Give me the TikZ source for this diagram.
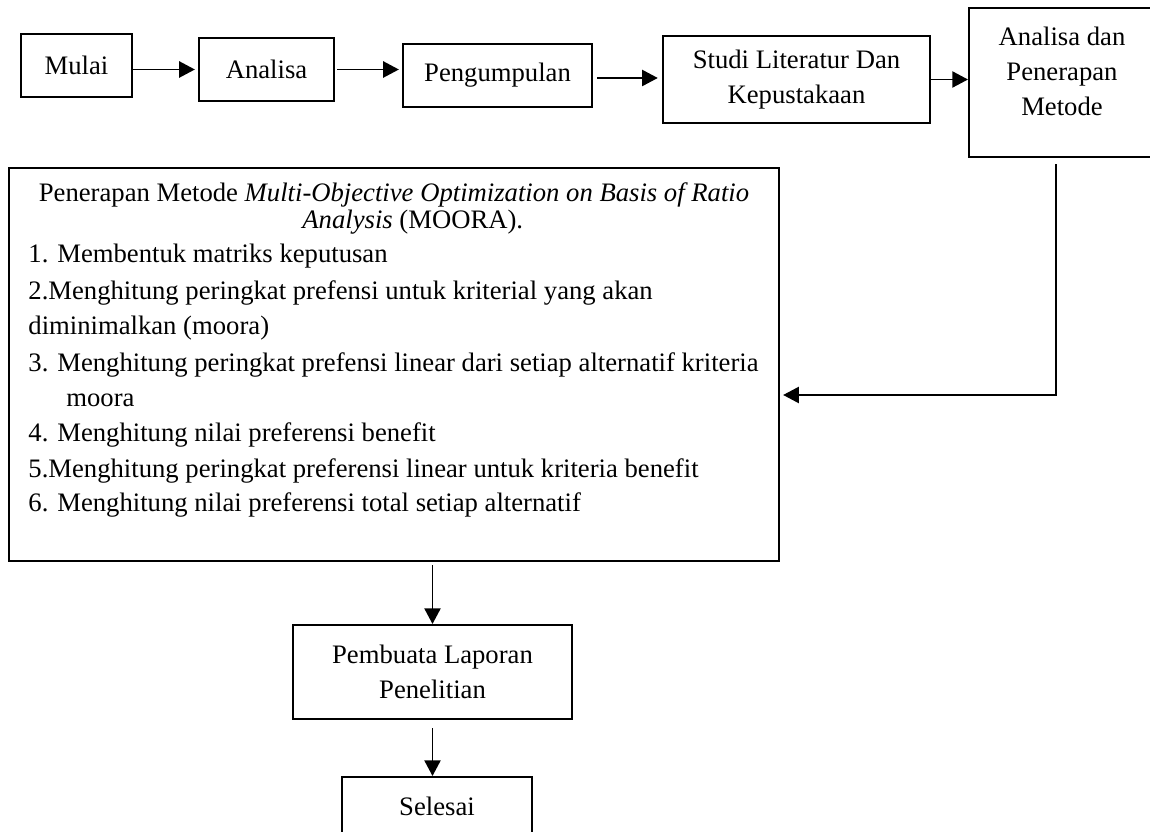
\documentclass[tikz,border=0pt]{standalone}
\usepackage{fontspec}
\setmainfont{Liberation Serif}
\usetikzlibrary{arrows.meta}

\tikzset{
	box/.style={draw, line width=1pt, inner sep=0pt, align=center, font=\fontsize{12.8}{16.8}\selectfont},
	txt/.style={inner sep=0pt, font=\fontsize{12.8}{14.4}\selectfont},
	arr/.style={line width=0.7pt, -{Triangle[length=7.5pt,width=7.8pt]}}
}

\begin{document}
\begin{tikzpicture}[x=0.48pt, y=-0.48pt]
			\useasboundingbox (0,0) rectangle (1150,832);
			% nodes, top row
			\node [box, minimum width=53.3pt, minimum height=30.2pt] (mulai) at (76.5,65.5) {Mulai};
			\node [box, minimum width=64.8pt, minimum height=30.2pt] (analisa) at (266.5,69.5) {Analisa};
			\node [box, minimum width=90.7pt, minimum height=30.2pt] (pengumpulan) at (497.5,75.5) {Pengumpulan};
			\node [box, minimum width=128.2pt, minimum height=41.8pt] (studi) at (796.5,79.5) {Studi Literatur Dan\\Kepustakaan};
			\node [box, minimum width=89.3pt, minimum height=71.5pt] (analisadan) at (1062,82.5) {};
			\node [box, draw=none, anchor=north] (analisadantxt) at (1062,26) {Analisa dan\\Penerapan\\Metode};
			% big box with the steps
			\node [box, minimum width=369.6pt, minimum height=188.6pt] (moora) at (394,364.5) {};
			\node [txt, anchor=base] (m0) at (394,202) {Penerapan Metode \textit{Multi-Objective Optimization on Basis of Ratio}};
			\node [txt, anchor=base west] (m1) at (302,229) {\textit{Analysis} (MOORA).};
			\node [txt, anchor=base west] (m2) at (28,263) {1. Membentuk matriks keputusan};
			\node [txt, anchor=base west] (m3) at (28,300) {2.Menghitung peringkat prefensi untuk kriterial yang akan};
			\node [txt, anchor=base west] (m4) at (28,335) {diminimalkan (moora)};
			\node [txt, anchor=base west] (m5) at (28,372) {3. Menghitung peringkat prefensi linear dari setiap alternatif kriteria};
			\node [txt, anchor=base west] (m6) at (66,407) {moora};
			\node [txt, anchor=base west] (m7) at (28,442) {4. Menghitung nilai preferensi benefit};
			\node [txt, anchor=base west] (m8) at (28,477) {5.Menghitung peringkat preferensi linear untuk kriteria benefit};
			\node [txt, anchor=base west] (m9) at (28,511) {6. Menghitung nilai preferensi total setiap alternatif};
			% bottom boxes
			\node [box, minimum width=133.9pt, minimum height=45.1pt] (pembuata) at (432.5,672) {Pembuata Laporan\\Penelitian};
			\node [box, minimum width=91.2pt, minimum height=28.3pt] (selesai) at (437,806.5) {Selesai};
			\coordinate (turn) at (1056,395);
			% arrows
			\draw [arr, shorten >=1.5pt] (analisa.west -| mulai.east) -- (analisa.west);
			\draw [arr, shorten <=1pt, shorten >=1.5pt] (analisa.east) -- (analisa.east -| pengumpulan.west);
			\draw [arr, shorten <=2pt, shorten >=2pt] (pengumpulan.east |- 0,78) -- (studi.west |- 0,78);
			\draw [arr] (studi.east) -- (studi.east -| analisadan.west);
			\draw [arr, line width=0.6pt, shorten <=3pt, shorten >=1.5pt] (analisadan.south -| turn) -- (turn) -- (turn -| moora.east);
			\draw [arr, shorten <=1.5pt] (pembuata.north |- moora.south) -- (pembuata.north);
			\draw [arr, shorten <=4pt] (pembuata.south) -- (pembuata.south |- selesai.north);
		\end{tikzpicture}
\end{document}
